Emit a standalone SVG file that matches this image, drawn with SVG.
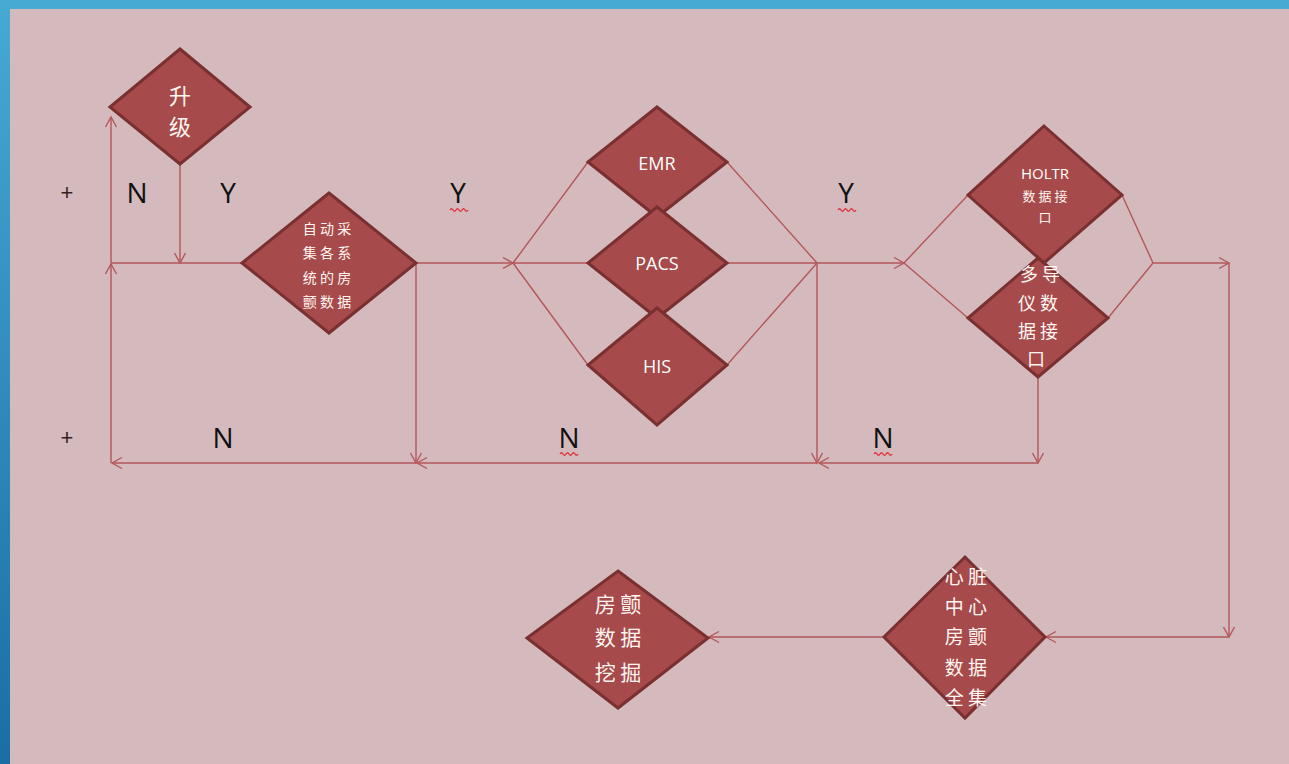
<svg xmlns="http://www.w3.org/2000/svg" width="1289" height="764" viewBox="0 0 1289 764">
<defs>
<linearGradient id="blue" x1="0" y1="0" x2="0" y2="1">
<stop offset="0" stop-color="#46aad3"/>
<stop offset="1" stop-color="#1a6ea4"/>
</linearGradient>
<marker id="ah" markerUnits="userSpaceOnUse" markerWidth="14" markerHeight="14" refX="11" refY="6" orient="auto" viewBox="0 0 14 12">
<path d="M1,0.5 L11,6 L1,11.5" fill="none" stroke="#b5565a" stroke-width="1.4"/>
</marker>
<style>
.dm{fill:#a64a4b;stroke:#7a2f30;stroke-width:3;stroke-linejoin:miter}
.ln{fill:none;stroke:#b5565a;stroke-width:1.4}
.ar{marker-end:url(#ah)}
.lat{font-family:"Open Sans","Liberation Sans",sans-serif;fill:#ffffff;text-anchor:middle}
.cjk{font-family:"Noto Sans CJK SC","Noto Sans CJK JP",sans-serif;fill:#fff6f2;text-anchor:middle}
.lbl{font-family:"Open Sans","Liberation Sans",sans-serif;fill:#111111;font-size:28px;text-anchor:middle}
.plus{font-family:"Liberation Sans",sans-serif;fill:#3a1f1f;font-size:22px;text-anchor:middle}
.wav{fill:none;stroke:#e0303a;stroke-width:1.3}
</style>
</defs>
<rect x="0" y="0" width="1289" height="764" fill="url(#blue)"/>
<rect x="0" y="0" width="1289" height="9" fill="#46aad3"/>
<rect x="10" y="9" width="1279" height="755" fill="#d4babd"/>

<g id="connectors">
<path class="ln ar" d="M180,164 L180,263"/>
<path class="ln ar" d="M111,463 L111,264"/>
<path class="ln ar" d="M111,263 L111,117"/>
<path class="ln" d="M111,263 L242,263"/>
<path class="ln ar" d="M416,263 L513,263"/>
<path class="ln ar" d="M416,263 L416,463"/>
<path class="ln ar" d="M1038,463 L819,463"/>
<path class="ln ar" d="M817,463 L417,463"/>
<path class="ln ar" d="M416,463 L112,463"/>
<path class="ln" d="M513,263 L588,162 M513,263 L588,263 M513,263 L588,365"/>
<path class="ln" d="M727,162 L817,263 M727,263 L817,263 M727,365 L817,263"/>
<path class="ln ar" d="M817,263 L904,263"/>
<path class="ln ar" d="M817,263 L817,463"/>
<path class="ln" d="M904,263 L968,195 M904,263 L968,318"/>
<path class="ln" d="M1122,195 L1153,263 M1108,318 L1153,263"/>
<path class="ln ar" d="M1153,263 L1229,263"/>
<path class="ln ar" d="M1229,263 L1229,637"/>
<path class="ln ar" d="M1229,637 L1046,637"/>
<path class="ln ar" d="M1038,377 L1038,463"/>
<path class="ln ar" d="M884,637 L709,637"/>
</g>

<g id="n-upgrade">
<polygon class="dm" points="180,49 250,107 180,164 110,107"/>
<text class="cjk" x="180" y="104" font-size="22">升</text>
<text class="cjk" x="180" y="135" font-size="22">级</text>
</g>

<g id="n-collect">
<polygon class="dm" points="329,193 416,263 329,333 242,263"/>
<text class="cjk" x="327" y="234" font-size="14">自 动 采</text>
<text class="cjk" x="327" y="258" font-size="14">集 各 系</text>
<text class="cjk" x="327" y="283" font-size="14">统 的 房</text>
<text class="cjk" x="327" y="307" font-size="14">颤 数 据</text>
</g>

<g id="n-emr">
<polygon class="dm" points="657,107 727,162 657,217 588,162"/>
<text class="lat" x="657" y="170" font-size="18">EMR</text>
</g>
<g id="n-pacs">
<polygon class="dm" points="657,207 727,263 657,318 588,263"/>
<text class="lat" x="657" y="270" font-size="18">PACS</text>
</g>
<g id="n-his">
<polygon class="dm" points="657,308 727,365 657,425 588,365"/>
<text class="lat" x="657" y="373" font-size="18">HIS</text>
</g>

<g id="n-holtr">
<polygon class="dm" points="1044,126 1122,195 1044,263 968,195"/>
<text class="lat" x="1045" y="179" font-size="15">HOLTR</text>
<text class="cjk" x="1045" y="201" font-size="13">数 据 接</text>
<text class="cjk" x="1045" y="222" font-size="13">口</text>
</g>
<g id="n-multi">
<polygon class="dm" points="1038,258 1108,318 1038,377 968,318"/>
<text class="cjk" x="1040" y="281" font-size="18">多 导</text>
<text class="cjk" x="1038" y="310" font-size="18">仪 数</text>
<text class="cjk" x="1038" y="338" font-size="18">据 接</text>
<text class="cjk" x="1036" y="366" font-size="18">口</text>
</g>

<g id="n-center">
<polygon class="dm" points="965,557 1045,637 965,718 884,637"/>
<text class="cjk" x="966" y="584" font-size="19">心 脏</text>
<text class="cjk" x="966" y="614" font-size="19">中 心</text>
<text class="cjk" x="966" y="644" font-size="19">房 颤</text>
<text class="cjk" x="966" y="675" font-size="19">数 据</text>
<text class="cjk" x="966" y="705" font-size="19">全 集</text>
</g>

<g id="n-mining">
<polygon class="dm" points="618,571 708,638 618,708 527,638"/>
<text class="cjk" x="618" y="612" font-size="21">房 颤</text>
<text class="cjk" x="618" y="645" font-size="21">数 据</text>
<text class="cjk" x="618" y="680" font-size="21">挖 掘</text>
</g>

<g id="labels">
<text class="plus" x="67" y="200">+</text>
<text class="plus" x="67" y="445">+</text>
<text class="lbl" x="137" y="203">N</text>
<text class="lbl" x="228" y="203">Y</text>
<text class="lbl" x="458" y="203">Y</text>
<path class="wav" d="M450,210 q1.5,-2.5 3,0 t3,0 t3,0 t3,0 t3,0 t3,0"/>
<text class="lbl" x="846" y="203">Y</text>
<path class="wav" d="M838,210 q1.5,-2.5 3,0 t3,0 t3,0 t3,0 t3,0 t3,0"/>
<text class="lbl" x="223" y="448">N</text>
<text class="lbl" x="569" y="448">N</text>
<path class="wav" d="M560,454 q1.5,-2.5 3,0 t3,0 t3,0 t3,0 t3,0 t3,0"/>
<text class="lbl" x="883" y="448">N</text>
<path class="wav" d="M874,454 q1.5,-2.5 3,0 t3,0 t3,0 t3,0 t3,0 t3,0"/>
</g>
</svg>
